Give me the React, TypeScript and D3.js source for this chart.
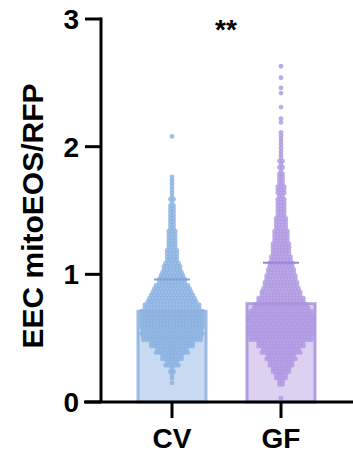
import * as d3 from "d3"

// group names and summary stats (mean, mean + SD)
const groups = ["CV", "GF"]
const means = [0.71, 0.77]
const upperSD = [0.96, 1.09]

// y axis ticks
const yTicks = [0, 1, 2, 3]

// swarm bin centres (value) and how many points sit in each bin
const bins = [
  0.05, 0.1, 0.15, 0.2, 0.25, 0.3, 0.35, 0.4, 0.45, 0.5, 0.55, 0.6, 0.65, 0.7, 0.75, 0.8, 0.85, 0.9, 0.95, 1.0,
  1.05, 1.1, 1.15, 1.2, 1.25, 1.3, 1.35, 1.4, 1.45, 1.5, 1.55, 1.6, 1.65, 1.7, 1.75, 1.8, 1.85, 1.9, 1.95, 2.0,
  2.05, 2.1,
]
const cvCounts = [
  0, 0, 1, 2, 3, 9, 14, 21, 28, 38, 39, 40, 40, 40, 36, 31, 27, 23, 18, 15,
  12, 9, 8, 7, 6, 6, 5, 4, 4, 4, 3, 3, 2, 2, 2, 0, 0, 0, 0, 0,
  0, 0,
]
const gfCounts = [
  0, 0, 4, 8, 12, 16, 19, 25, 30, 40, 41, 41, 42, 40, 35, 30, 26, 23, 21, 19,
  17, 15, 13, 12, 11, 10, 9, 8, 7, 6, 6, 5, 6, 5, 4, 3, 3, 3, 2, 2,
  2, 2,
]
// single points outside the binned part
const cvOutliers = [2.08]
const gfOutliers = [0.03, 2.19, 2.22, 2.31, 2.42, 2.46, 2.54, 2.63]

const dotFill = ["#8ab1e0", "#af99e2"]
const barFill = ["#c8daf1", "#ddd1f1"]
const barStroke = ["#8fb0dc", "#a991da"]
const capStroke = ["#7aa3d8", "#9d84d8"]

const W = 353
const H = 453
const font = "Liberation Sans, Arial, Helvetica, sans-serif"

export default function App() {
  const y = d3.scaleLinear().domain([0, 3]).range([402, 19])
  const x = d3.scalePoint<string>().domain(groups).range([172, 281])

  const spacing = 3.2
  const r = 2.4
  const rowStep = 0.0125

  // lay out each bin as two rows of dots centred on the group
  const makeDots = (counts: number[], outliers: number[], cx: number) => {
    const dots: { x: number; y: number }[] = []
    bins.forEach((b, i) => {
      const n = counts[i]
      if (!n) return
      const rows = n === 1 ? [[b, 1]] : [[b - rowStep, Math.ceil(n / 2)], [b + rowStep, Math.floor(n / 2)]]
      rows.forEach(([v, m]) => {
        for (let k = 0; k < m; k++) {
          dots.push({ x: cx + (k - (m - 1) / 2) * spacing, y: y(v) })
        }
      })
    })
    outliers.forEach((v) => dots.push({ x: cx, y: y(v) }))
    return dots
  }

  const swarms = [
    makeDots(cvCounts, cvOutliers, x("CV") as number),
    makeDots(gfCounts, gfOutliers, x("GF") as number),
  ]

  const barHalf = 34
  const capHalf = 18

  return (
    <svg width={W} height={H} style={{ position: "absolute", left: 0, top: 0, background: "#fff" }}>
      {/* bar fills */}
      {groups.map((g, i) => (
        <rect
          key={"f" + g}
          x={(x(g) as number) - barHalf}
          y={y(means[i])}
          width={barHalf * 2}
          height={y(0) - y(means[i])}
          fill={barFill[i]}
        />
      ))}

      {/* points */}
      {swarms.map((dots, i) => (
        <g key={"d" + i} fill={dotFill[i]} fillOpacity={0.82}>
          {dots.map((d, j) => (
            <circle key={j} cx={d.x} cy={d.y} r={r} />
          ))}
        </g>
      ))}

      {/* bar outlines over the points */}
      {groups.map((g, i) => (
        <rect
          key={"o" + g}
          x={(x(g) as number) - barHalf}
          y={y(means[i])}
          width={barHalf * 2}
          height={y(0) - y(means[i])}
          fill="none"
          stroke={barStroke[i]}
          strokeWidth={3}
          strokeOpacity={0.85}
        />
      ))}

      {/* error bar caps */}
      {groups.map((g, i) => (
        <line
          key={"c" + g}
          x1={(x(g) as number) - capHalf}
          x2={(x(g) as number) + capHalf}
          y1={y(upperSD[i])}
          y2={y(upperSD[i])}
          stroke={capStroke[i]}
          strokeWidth={2}
        />
      ))}

      {/* y axis */}
      <line x1={101} x2={101} y1={y(3) - 1.5} y2={y(0)} stroke="#000" strokeWidth={3} />
      {yTicks.map((t) => (
        <g key={t}>
          <line x1={85} x2={101} y1={y(t)} y2={y(t)} stroke="#000" strokeWidth={3} />
          <text
            x={79}
            y={y(t)}
            dy="0.36em"
            textAnchor="end"
            fontFamily={font}
            fontWeight="bold"
            fontSize={28}
          >
            {t}
          </text>
        </g>
      ))}

      {/* x axis */}
      <line x1={84} x2={W} y1={y(0)} y2={y(0)} stroke="#000" strokeWidth={3} />
      {groups.map((g) => (
        <g key={"x" + g}>
          <line x1={x(g)} x2={x(g)} y1={y(0)} y2={418} stroke="#000" strokeWidth={3} />
          <text x={x(g)} y={448} textAnchor="middle" fontFamily={font} fontWeight="bold" fontSize={28}>
            {g}
          </text>
        </g>
      ))}

      {/* y label */}
      <text
        transform={`translate(43,216) rotate(-90)`}
        textAnchor="middle"
        fontFamily={font}
        fontWeight="bold"
        fontSize={30}
      >
        EEC mitoEOS/RFP
      </text>

      {/* significance */}
      <text x={226} y={39} textAnchor="middle" fontFamily={font} fontWeight="bold" fontSize={28}>
        **
      </text>
    </svg>
  )
}
